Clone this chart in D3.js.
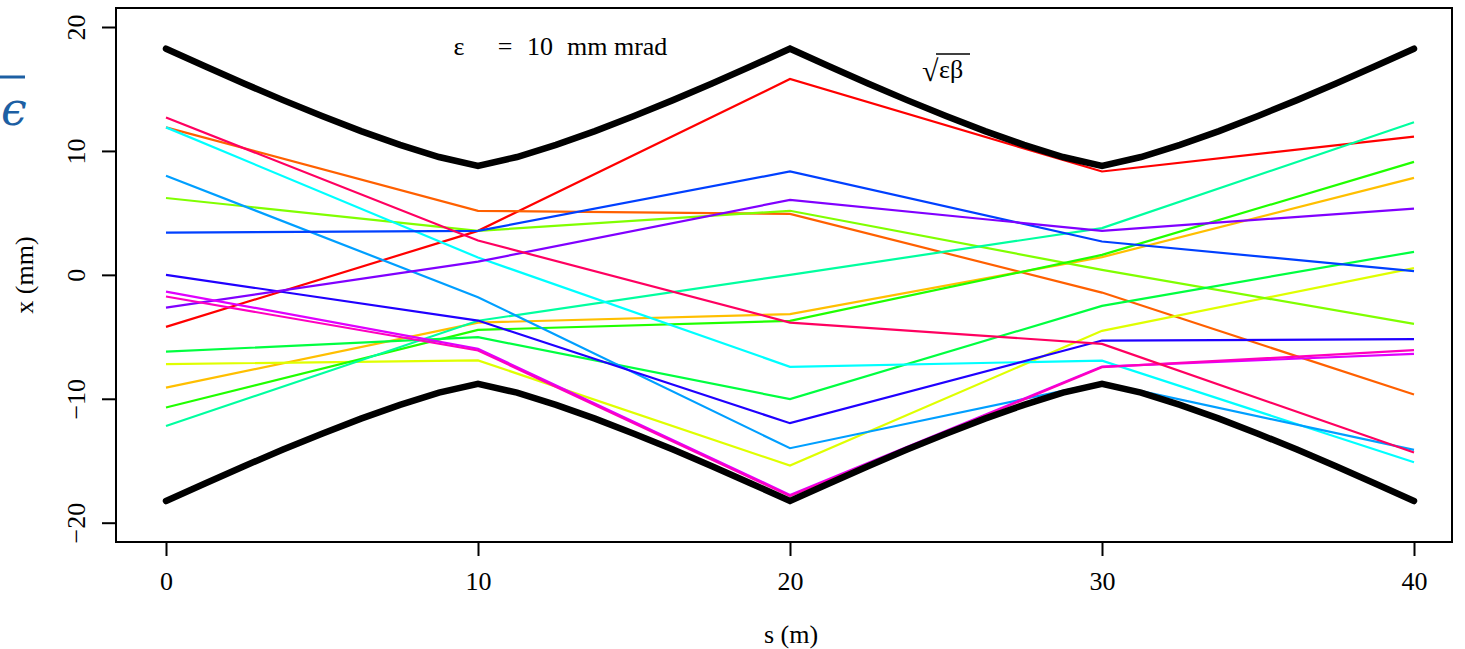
<!DOCTYPE html>
<html lang="en">
<head>
  <meta charset="UTF-8">
  <title>Beam envelope</title>
  <script src="https://cdn.jsdelivr.net/npm/d3@7"></script>
  <style>
    html, body { margin: 0; padding: 0; background: #ffffff; }
    svg text { font-family: "Liberation Serif", "DejaVu Serif", serif; fill: #000; }
    .axis text { font-size: 26px; }
    .axis line { stroke: #000; stroke-width: 2px; }
  </style>
</head>
<body>
  <div class="chart"></div>

  <script type="text/javascript">
    // quad positions (m)
    const positions = [0, 10, 20, 30, 40];

    // particle trajectories, x (mm) at each position
    const colors = ['#FF0000', '#FF6000', '#FFBF00', '#DFFF00', '#80FF00', '#20FF00', '#00FF40', '#00FF9F',
                    '#00FFFF', '#009FFF', '#0040FF', '#2000FF', '#8000FF', '#DF00FF', '#FF00BF', '#FF0060'];
    const red        = [-4.2, 3.55, 15.8, 8.34, 11.16];
    const orange     = [11.9, 5.17, 4.92, -1.43, -9.66];
    const amber      = [-9.1, -3.85, -3.17, 1.43, 7.83];
    const yellow     = [-7.2, -6.9, -15.39, -4.52, 0.54];
    const lime       = [6.2, 3.55, 5.17, 0.4, -3.95];
    const green      = [-10.7, -4.44, -3.71, 1.61, 9.12];
    const green2     = [-6.2, -5.03, -10.03, -2.5, 1.86];
    const spring     = [-12.2, -3.7, 0.0, 3.77, 12.32];
    const cyan       = [11.9, 1.4, -7.42, -6.92, -15.12];
    const sky        = [8.0, -1.8, -13.99, -8.7, -14.12];
    const blue       = [3.4, 3.55, 8.34, 2.69, 0.3];
    const indigo     = [0.0, -3.69, -11.97, -5.3, -5.19];
    const violet     = [-2.64, 1.07, 6.05, 3.55, 5.35];
    const magenta    = [-1.35, -5.97, -17.76, -7.4, -6.38];
    const pink       = [-1.75, -6.1, -17.85, -7.45, -6.08];
    const crimson    = [12.7, 2.77, -3.85, -5.57, -14.34];
    const tracks = [red, orange, amber, yellow, lime, green, green2, spring,
                    cyan, sky, blue, indigo, violet, magenta, pink, crimson];

    // envelope sqrt(eps*beta) (mm), read every 1.25 m
    const envS = d3.range(0, 40.01, 1.25);
    const envelope = [18.25, 16.83, 15.44, 14.10, 12.82, 11.60, 10.49, 9.51, 8.8,
                      9.51, 10.49, 11.60, 12.82, 14.10, 15.44, 16.83, 18.25,
                      16.83, 15.44, 14.10, 12.82, 11.60, 10.49, 9.51, 8.8,
                      9.51, 10.49, 11.60, 12.82, 14.10, 15.44, 16.83, 18.25];

    const xTicks = [0, 10, 20, 30, 40];
    const yTicks = [-20, -10, 0, 10, 20];

    const box = { left: 116, top: 8, right: 1452, bottom: 542 };

    const svg = d3.select('.chart')
      .append('svg')
      .attr('width', 1465)
      .attr('height', 649);

    const x = d3.scaleLinear().domain([0, 40]).range([166, 1414]);
    const y = d3.scaleLinear().domain([-20, 20]).range([522.7, 27]);

    const line = d3.line()
      .x(function(d) { return x(d[0]); })
      .y(function(d) { return y(d[1]); });

    // trajectories
    svg.selectAll('.track')
      .data(tracks)
      .enter()
      .append('path')
      .attr('class', 'track')
      .attr('fill', 'none')
      .attr('stroke', function(d, i) { return colors[i]; })
      .attr('stroke-width', 2.2)
      .attr('d', function(d) {
        return line(positions.map(function(s, j) { return [s, d[j]]; }));
      });

    // envelope, upper and lower
    [1, -1].forEach(function(sign) {
      svg.append('path')
        .attr('fill', 'none')
        .attr('stroke', '#000')
        .attr('stroke-width', 6.5)
        .attr('stroke-linecap', 'round')
        .attr('stroke-linejoin', 'miter')
        .attr('d', line(envS.map(function(s, j) { return [s, sign * envelope[j]]; })));
    });

    // box
    svg.append('rect')
      .attr('x', box.left)
      .attr('y', box.top)
      .attr('width', box.right - box.left)
      .attr('height', box.bottom - box.top)
      .attr('fill', 'none')
      .attr('stroke', '#000')
      .attr('stroke-width', 2);

    // axes
    const xAxis = svg.append('g')
      .attr('class', 'axis')
      .attr('transform', 'translate(0,' + box.bottom + ')')
      .call(d3.axisBottom(x).tickValues(xTicks).tickSize(14).tickFormat(d3.format('d')));
    xAxis.select('.domain').remove();
    xAxis.selectAll('text')
      .attr('y', 48)
      .attr('dy', 0)
      .style('font-family', '"Liberation Serif", serif');

    const yAxis = svg.append('g')
      .attr('class', 'axis')
      .attr('transform', 'translate(' + box.left + ',0)')
      .call(d3.axisLeft(y).tickValues(yTicks).tickSize(14).tickFormat(d3.format('d')));
    yAxis.select('.domain').remove();
    yAxis.selectAll('text')
      .attr('x', 0)
      .attr('dy', 0)
      .attr('text-anchor', 'middle')
      .attr('transform', 'translate(-31,0) rotate(-90)')
      .style('font-family', '"Liberation Serif", serif');

    // axis titles
    svg.append('text')
      .attr('x', 791)
      .attr('y', 643)
      .attr('text-anchor', 'middle')
      .style('font-size', '26px')
      .text('s (m)');

    svg.append('text')
      .attr('transform', 'translate(33,275) rotate(-90)')
      .attr('text-anchor', 'middle')
      .style('font-size', '26px')
      .text('x (mm)');

    // annotations
    const note = svg.append('g').style('font-size', '26px');
    note.append('text').attr('x', 459).attr('y', 55).attr('text-anchor', 'middle').text('ε');
    note.append('text').attr('x', 505).attr('y', 55).attr('text-anchor', 'middle').text('=');
    note.append('text').attr('x', 540).attr('y', 55).attr('text-anchor', 'middle').text('10');
    note.append('text').attr('x', 567).attr('y', 55).text('mm mrad');

    note.append('text').attr('x', 922).attr('y', 81).style('font-size', '30px').text('√');
    note.append('text').attr('x', 939).attr('y', 78).text('εβ');
    note.append('line')
      .attr('x1', 936).attr('x2', 970)
      .attr('y1', 54).attr('y2', 54)
      .attr('stroke', '#000').attr('stroke-width', 1.5);

    // stray blue glyph at the left edge
    svg.append('line')
      .attr('x1', 0).attr('x2', 25)
      .attr('y1', 77).attr('y2', 77)
      .attr('stroke', '#1d5fa3').attr('stroke-width', 3);
    svg.append('text')
      .attr('x', 1)
      .attr('y', 125)
      .style('font-family', '"DejaVu Serif", serif')
      .style('font-style', 'italic')
      .style('font-size', '46px')
      .style('fill', '#1d5fa3')
      .text('ϵ');
  </script>
</body>
</html>
